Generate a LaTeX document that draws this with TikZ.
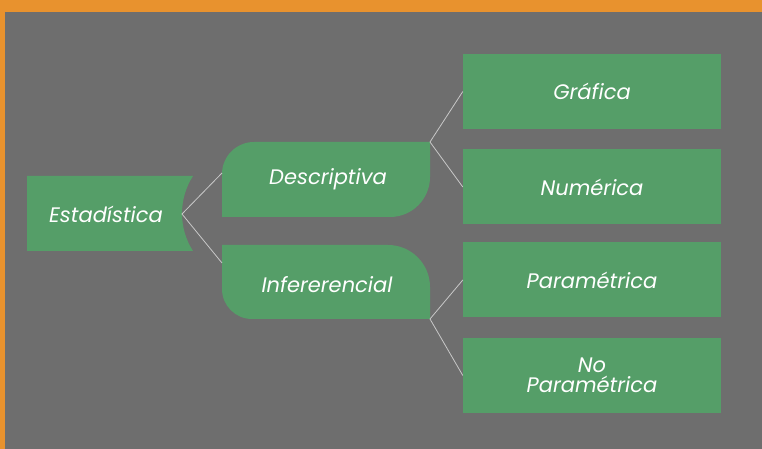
\documentclass[tikz,border=0pt]{standalone}
\usepackage{fontspec}
\setmainfont{Poppins}
\definecolor{frame}{HTML}{E8922E}
\definecolor{back}{HTML}{6E6E6E}
\definecolor{leaf}{HTML}{559E68}
\definecolor{twig}{HTML}{C8C8C8}
\begin{document}
\begin{tikzpicture}[x=1pt,y=1pt]\tikzset{label/.style = {text=white, font=\fontsize{21}{19.5}\selectfont\itshape, align=center, inner sep=0pt},
	box/.style = {label, fill=leaf, minimum width=258pt, minimum height=75pt},
	link/.style = {draw=twig, line width=0.8pt}}

		\useasboundingbox (0,0) rectangle (762,449);
		\fill[frame] (0,0) rectangle (762,449);
		\fill[back] (5,0) rectangle (762,437);

		% shaped boxes
		\fill[leaf] (27,198) -- (27,273) -- (193,273) arc[start angle=147.3, end angle=212.7, radius=69.4] -- cycle;
		\fill[leaf] (222,232) -- (222,275) arc[start angle=180, end angle=90, radius=32] -- (430,307) -- (430,272) arc[start angle=0, end angle=-90, radius=40] -- cycle;
		\fill[leaf] (222,204) -- (388,204) arc[start angle=90, end angle=0, radius=42] -- (430,130) -- (252,130) arc[start angle=270, end angle=180, radius=30] -- cycle;

		\node[label] (Est) at (106,235) {Estadística};
		\node[label] (Desc) at (328,270) {Descriptiva};
		\node[label] (Inf) at (327,164) {Infererencial};

		\node[box] (Graf) at (592,357.5) {Gráfica};
		\node[box] (Num) at (592,262) {Numérica};
		\node[box] (Par) at (592,169) {Paramétrica};
		\node[box] (NoPar) at (592,73.5) {No\\Paramétrica};

		\coordinate (E_c) at (182,235);
		\coordinate (D_l) at (222,276);
		\coordinate (I_l) at (222,186);
		\coordinate (D_c) at (430,307);
		\coordinate (I_c) at (430,130);

		\draw[link] (D_l) -- (E_c) -- (I_l);
		\draw[link] (Graf.west) -- (D_c) -- (Num.west);
		\draw[link] (Par.west) -- (I_c) -- (NoPar.west);
	\end{tikzpicture}
\end{document}
